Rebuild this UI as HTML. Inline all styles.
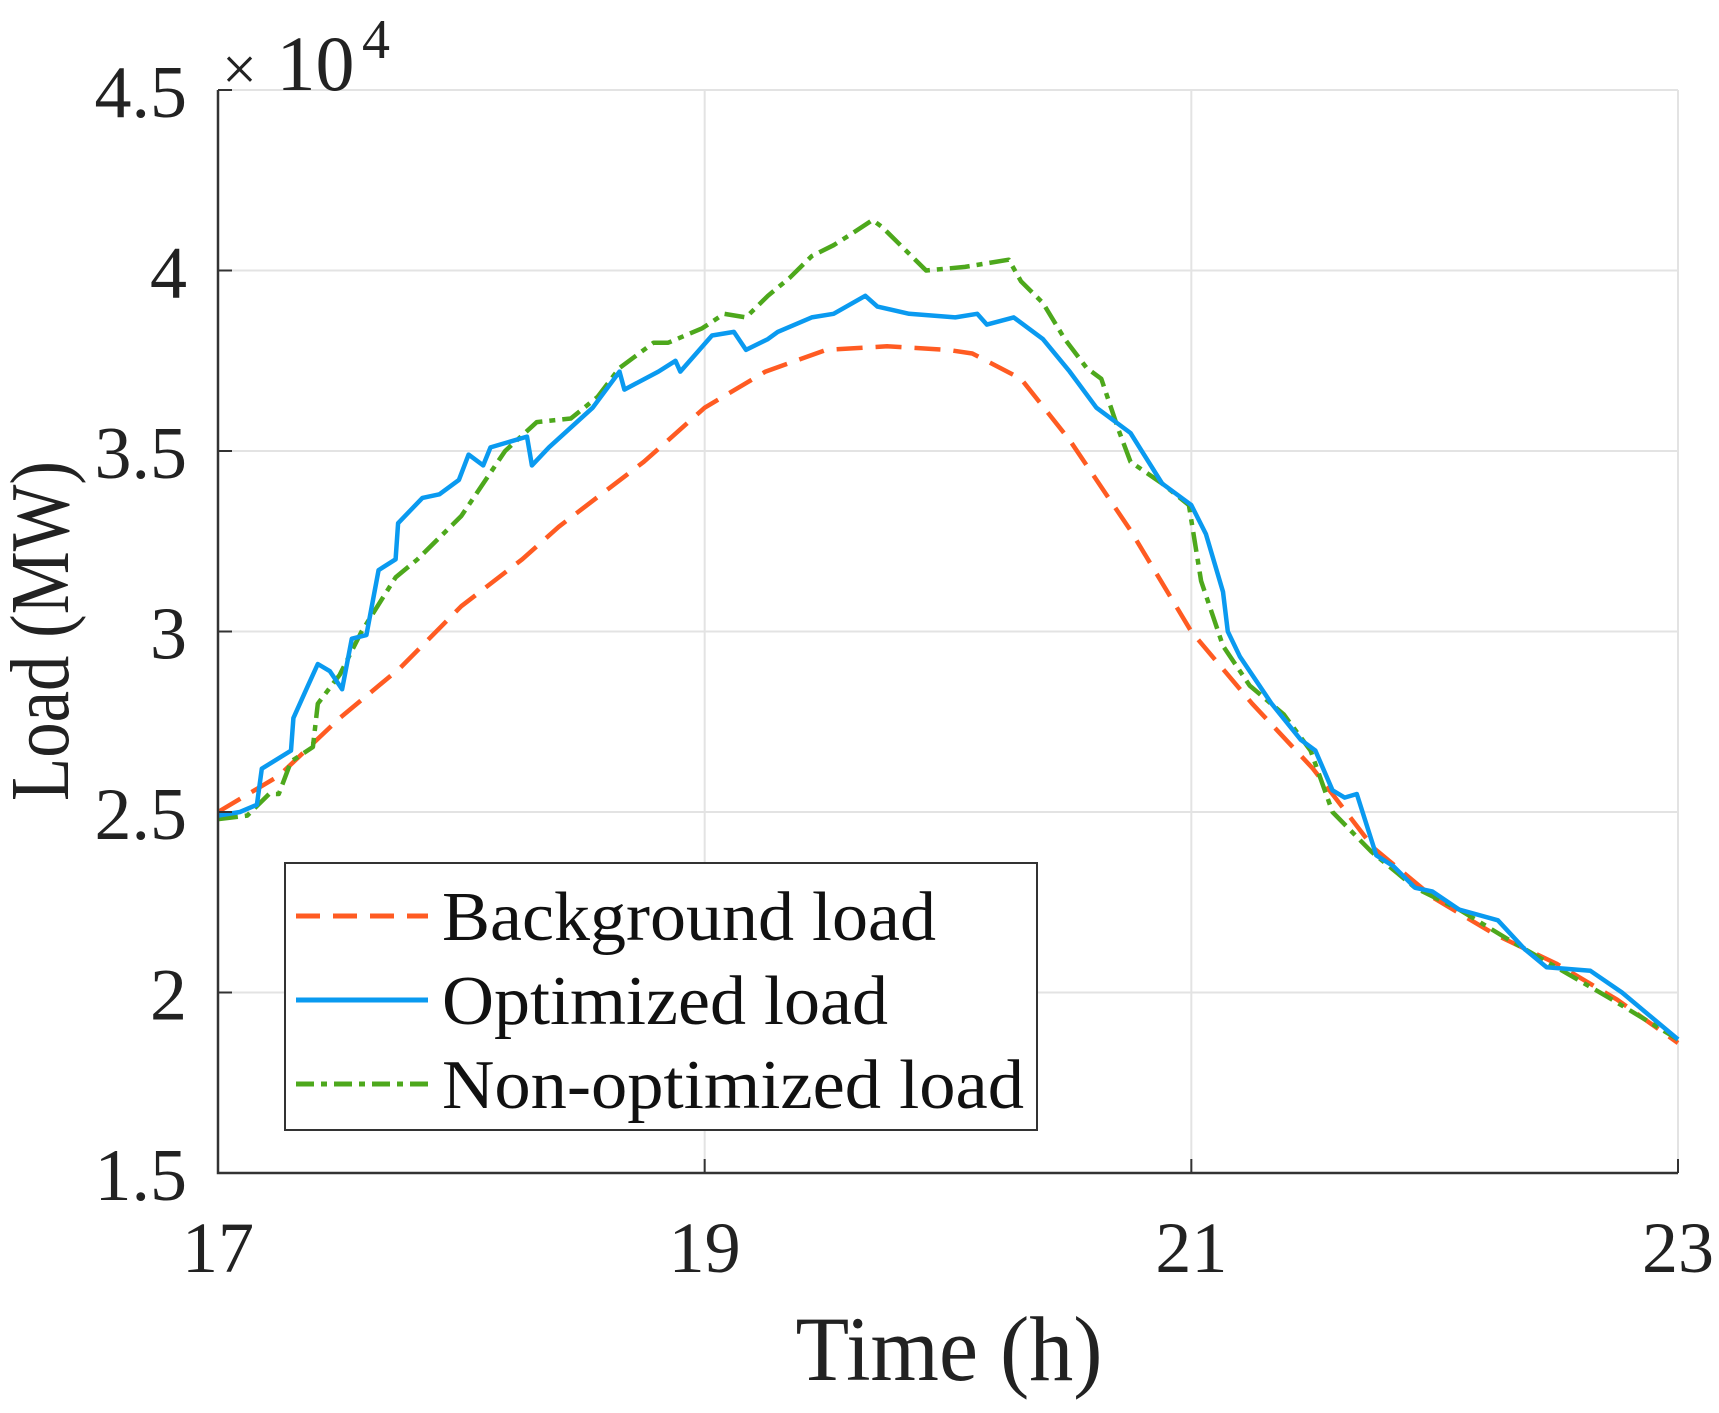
<!DOCTYPE html>
<html><head><meta charset="utf-8"><style>
html,body{margin:0;padding:0;background:#fff;}
svg{display:block;font-family:"Liberation Serif",serif;}
</style></head><body>
<svg id="chart" width="1719" height="1413" viewBox="0 0 1719 1413">
<g id="grid"></g>
<g id="series"></g>
<g id="axes"></g>
<text x="222" y="90" font-size="78" fill="#222"><tspan font-size="62">×</tspan> 10</text>
<text x="362" y="58" font-size="56" fill="#222">4</text>
<text x="949" y="1380" font-size="92" text-anchor="middle" textLength="307" lengthAdjust="spacingAndGlyphs" fill="#222">Time (h)</text>
<text transform="translate(68,631) rotate(-90)" font-size="84" text-anchor="middle" textLength="340" lengthAdjust="spacingAndGlyphs" fill="#222">Load (MW)</text>
<g>
<rect x="285" y="863" width="752" height="267" fill="#fff" stroke="#333" stroke-width="2"/>
<line x1="296" y1="916" x2="428" y2="916" stroke="#ff5b22" stroke-width="5" stroke-dasharray="24,13"/>
<text x="442" y="940" font-size="70" textLength="494" lengthAdjust="spacingAndGlyphs" fill="#111">Background load</text>
<line x1="296" y1="1000" x2="428" y2="1000" stroke="#0a9af0" stroke-width="5"/>
<text x="442" y="1024" font-size="70" textLength="446" lengthAdjust="spacingAndGlyphs" fill="#111">Optimized load</text>
<line x1="296" y1="1084" x2="428" y2="1084" stroke="#4da81c" stroke-width="5" stroke-dasharray="18,7,6,7"/>
<text x="442" y="1108" font-size="70" textLength="582" lengthAdjust="spacingAndGlyphs" fill="#111">Non-optimized load</text>
</g>
</svg>
<script>
const xTicks=[17,19,21,23];
const yTicks=[1.5,2,2.5,3,3.5,4,4.5];
const yTickLabels=["1.5","2","2.5","3","3.5","4","4.5"];
const bgT=[17,17.25,17.5,17.75,18,18.25,18.4,18.75,19,19.25,19.5,19.75,20,20.1,20.3,20.5,20.75,21,21.25,21.5,21.75,22,22.25,22.5,22.75,23];
const bgV=[2.5,2.6,2.76,2.9,3.07,3.2,3.29,3.47,3.62,3.72,3.78,3.79,3.78,3.77,3.7,3.53,3.28,3.0,2.8,2.62,2.4,2.26,2.16,2.08,1.98,1.86];
const optT=[17,17.09,17.16,17.18,17.3,17.31,17.37,17.41,17.46,17.51,17.55,17.61,17.66,17.73,17.74,17.84,17.91,17.99,18.03,18.09,18.12,18.27,18.29,18.36,18.54,18.65,18.67,18.81,18.88,18.9,19.03,19.12,19.17,19.26,19.3,19.44,19.53,19.66,19.71,19.84,20.03,20.12,20.16,20.27,20.39,20.5,20.61,20.75,20.88,21,21.06,21.13,21.15,21.2,21.33,21.45,21.51,21.58,21.63,21.68,21.76,21.83,21.92,21.99,22.1,22.26,22.37,22.46,22.64,22.77,23];
const optV=[2.49,2.5,2.52,2.62,2.67,2.76,2.85,2.91,2.89,2.84,2.98,2.99,3.17,3.2,3.3,3.37,3.38,3.42,3.49,3.46,3.51,3.54,3.46,3.51,3.62,3.72,3.67,3.72,3.75,3.72,3.82,3.83,3.78,3.81,3.83,3.87,3.88,3.93,3.9,3.88,3.87,3.88,3.85,3.87,3.81,3.72,3.62,3.55,3.41,3.35,3.27,3.11,3.0,2.93,2.8,2.7,2.67,2.56,2.54,2.55,2.38,2.35,2.29,2.28,2.23,2.2,2.12,2.07,2.06,2.0,1.87];
const nonT=[17,17.12,17.21,17.25,17.3,17.39,17.41,17.5,17.59,17.73,17.82,18,18.09,18.18,18.31,18.45,18.56,18.65,18.79,18.85,18.99,19.08,19.17,19.26,19.35,19.44,19.53,19.6,19.69,19.73,19.91,20.07,20.25,20.3,20.39,20.48,20.57,20.63,20.7,20.75,20.88,20.99,21.04,21.13,21.24,21.38,21.49,21.58,21.74,21.92,22.1,22.32,22.5,22.73,23];
const nonV=[2.48,2.49,2.55,2.55,2.64,2.68,2.8,2.88,3.0,3.15,3.2,3.32,3.41,3.5,3.58,3.59,3.65,3.73,3.8,3.8,3.84,3.88,3.87,3.93,3.98,4.04,4.07,4.1,4.14,4.12,4.0,4.01,4.03,3.97,3.91,3.81,3.73,3.7,3.56,3.47,3.41,3.35,3.14,2.96,2.85,2.77,2.67,2.5,2.39,2.29,2.23,2.14,2.07,1.98,1.87];
const L=218,R=1678,T=90,B=1173;
const xs=t=>L+(t-17)/6*(R-L);
const ys=v=>B-(v-1.5)/3*(B-T);
const NS="http://www.w3.org/2000/svg";
function mk(tag,parent,attrs){const e=document.createElementNS(NS,tag);for(const k in attrs)e.setAttribute(k,attrs[k]);parent.appendChild(e);return e;}
const grid=document.getElementById('grid'),axes=document.getElementById('axes'),series=document.getElementById('series');
xTicks.forEach(t=>{
  const g=mk('line',grid,{x1:xs(t),x2:xs(t),y1:T,y2:B,stroke:'#e3e3e3','stroke-width':2});
  
  
  const tk=mk('line',axes,{x1:xs(t),x2:xs(t),y1:B,y2:B-14,stroke:'#333','stroke-width':2});
  
  
  const lb=mk('text',axes,{x:xs(t),y:1272,'font-size':72,'text-anchor':'middle',fill:'#222'});
  lb.textContent=String(t);
  
  
});
yTicks.forEach((v,i)=>{
  const g=mk('line',grid,{x1:L,x2:R,y1:ys(v),y2:ys(v),stroke:'#e3e3e3','stroke-width':2});
  
  
  const tk=mk('line',axes,{x1:L,x2:L+14,y1:ys(v),y2:ys(v),stroke:'#333','stroke-width':2});
  
  
  const lb=mk('text',axes,{x:187,y:ys(v)+27,'font-size':74,'text-anchor':'end',fill:'#222'});
  lb.textContent=yTickLabels[i];
  
  
});
const ax=mk('path',axes,{d:`M${L},${T}V${B}H${R}`,fill:'none',stroke:'#333','stroke-width':2.5});


function line(T_,V_,color,dash,name){
  const d=T_.map((t,i)=>(i?'L':'M')+xs(t).toFixed(1)+','+ys(V_[i]).toFixed(1)).join('');
  const p=mk('path',series,{d:d,fill:'none',stroke:color,'stroke-width':4.5,'stroke-linejoin':'round'});
  if(dash)p.setAttribute('stroke-dasharray',dash);
  
  
}
line(bgT,bgV,'#ff5b22','26,13','background-load-line');
line(nonT,nonV,'#4da81c','20,7,6,7','non-optimized-load-line');
line(optT,optV,'#0a9af0',null,'optimized-load-line');
</script>
</body></html>
